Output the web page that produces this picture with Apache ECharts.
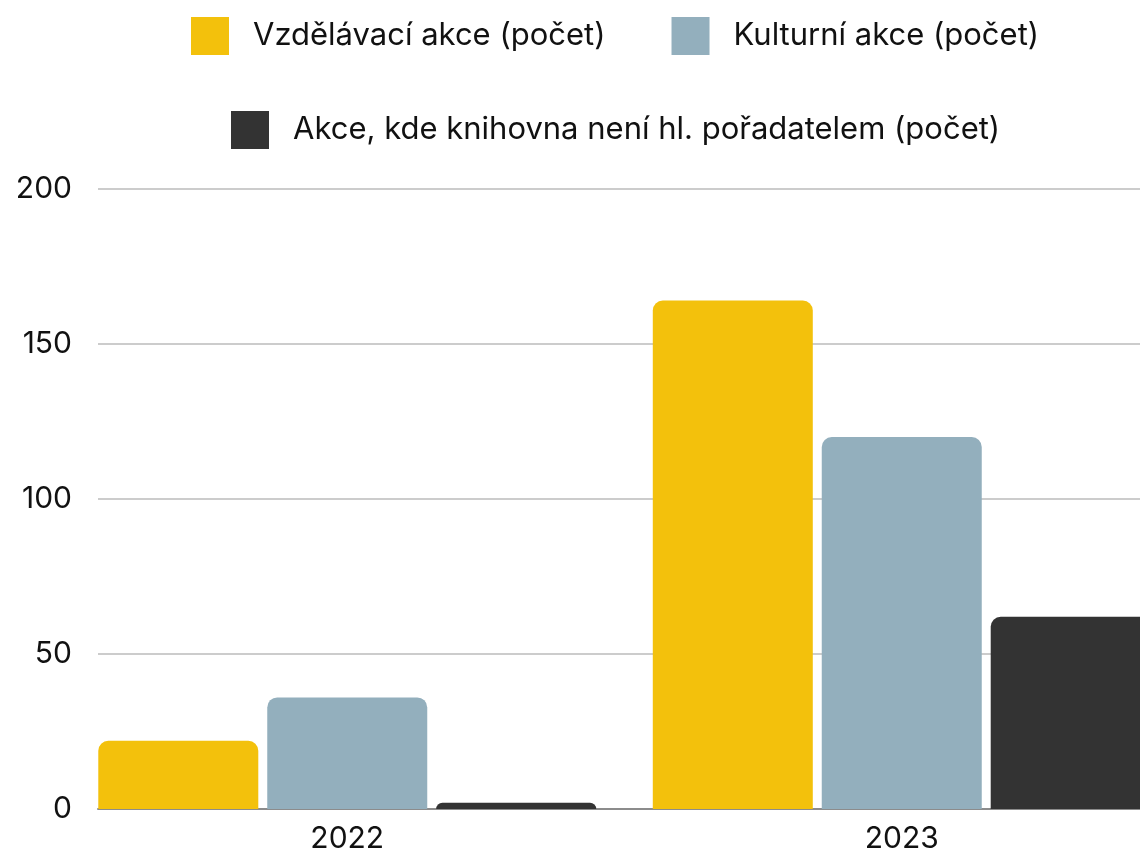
<!DOCTYPE html>
<html>
<head>
<meta charset="utf-8">
<script src="https://cdn.jsdelivr.net/npm/echarts@6/dist/echarts.min.js"></script>
<style>
  html, body { margin: 0; padding: 0; background: #fff; overflow: hidden; }
  /* the original plot runs past the right edge, so the canvas is a bit wider than the window */
  #main { width: 1179px; height: 855px; }
</style>
</head>
<body>
<div id="main"></div>
<script>
// data
var years = ['2022', '2023'];
var vzdelavaci = [22, 164];
var kulturni = [36, 120];
var jinePoradani = [2, 62];
var seriesNames = ['Vzdělávací akce (počet)', 'Kulturní akce (počet)', 'Akce, kde knihovna není hl. pořadatelem (počet)'];
var yTicks = [0, 50, 100, 150, 200];

var chartDom = document.getElementById('main');
var myChart = echarts.init(chartDom);
var font = 'Inter';

function barSeries(name, values, color) {
  return {
    name: name,
    type: 'bar',
    xAxisIndex: 1,
    yAxisIndex: 1,
    barWidth: 160,
    barGap: '5.6%',
    itemStyle: { color: color, borderRadius: [10, 10, 0, 0] },
    data: values
  };
}

var option = {
  animation: false,
  textStyle: { fontFamily: font },
  legend: [
    {
      data: [seriesNames[0], seriesNames[1]],
      left: 191, top: 17, padding: 0,
      itemWidth: 38, itemHeight: 38, itemGap: 66,
      icon: 'rect',
      textStyle: { fontSize: 31, color: '#111', fontFamily: font, padding: [0, 0, 0, 19] }
    },
    {
      data: [seriesNames[2]],
      left: 231, top: 111, padding: 0,
      itemWidth: 38, itemHeight: 38,
      icon: 'rect',
      textStyle: { fontSize: 31, color: '#111', fontFamily: font, padding: [0, 0, 0, 19] }
    }
  ],
  grid: [
    { left: 98, right: 39, top: 189, bottom: 46 },
    { left: 70, right: 0, top: 189, bottom: 46 }
  ],
  xAxis: [
    {
      gridIndex: 0, type: 'category', data: years,
      axisLine: { show: true, lineStyle: { color: '#8c8c8c', width: 2 } },
      axisTick: { show: false }, axisLabel: { show: false }
    },
    {
      gridIndex: 1, type: 'category', data: years,
      axisLine: { show: false }, axisTick: { show: false },
      axisLabel: { fontSize: 30, color: '#111', margin: 15, fontFamily: font }
    }
  ],
  yAxis: [
    {
      gridIndex: 0, type: 'value', min: yTicks[0], max: yTicks[yTicks.length - 1], interval: 50,
      axisLabel: { fontSize: 30, color: '#111', margin: 26, fontFamily: font },
      splitLine: { lineStyle: { color: '#cccccc', width: 2 } },
      axisLine: { show: false }, axisTick: { show: false }
    },
    {
      gridIndex: 1, type: 'value', min: yTicks[0], max: yTicks[yTicks.length - 1], interval: 50,
      show: false, splitLine: { show: false }
    }
  ],
  series: [
    barSeries(seriesNames[0], vzdelavaci, '#F3C10C'),
    barSeries(seriesNames[1], kulturni, '#93AFBD'),
    barSeries(seriesNames[2], jinePoradani, '#333333')
  ]
};

option && myChart.setOption(option);
</script>
</body>
</html>
